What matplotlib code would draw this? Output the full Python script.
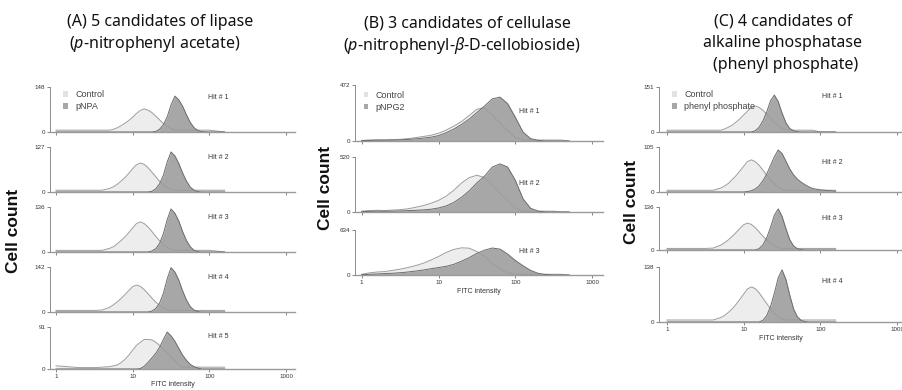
import numpy as np
import matplotlib.pyplot as plt
from matplotlib.patches import Patch
from matplotlib.ticker import NullLocator

plt.rcParams['font.family'] = ['Liberation Sans', 'DejaVu Sans']
plt.rcParams['mathtext.fontset'] = 'custom'
plt.rcParams['mathtext.rm'] = 'Noto Sans'
plt.rcParams['mathtext.it'] = 'Noto Sans:italic'

# FITC intensity grids (histogram bin centres)
fitc_ac = [1, 2.0, 3.16, 3.98, 5.01, 5.62, 6.31, 7.08, 7.94, 8.91, 10, 11.2, 12.6, 14.1, 15.8,
           17.8, 20.0, 22.4, 25.1, 28.2, 31.6, 35.5, 39.8, 44.7, 50.1, 56.2, 63.1, 70.8, 79.4, 100, 158]
fitc_b = [1, 1.26, 1.58, 2.0, 2.51, 3.16, 3.98, 5.01, 6.31, 7.94, 10, 12.6, 15.8, 20.0,
          25.1, 31.6, 39.8, 50.1, 63.1, 79.4, 100, 126, 158, 200, 251, 316, 398, 501]

# (A) lipase, substrate pNPA
lipase_max = [148, 127, 136, 142, 91]
lipase_ctrl = [
    [6, 6, 6, 6, 6, 9, 14, 21, 29, 38, 49, 61, 71, 76, 72, 64, 52, 40, 28, 19, 11, 6, 6, 6, 6, 6, 6, 6, 6, 6, 0],
    [5, 5, 5, 5, 10, 15, 22, 31, 41, 53, 66, 77, 82, 78, 69, 56, 43, 30, 20, 12, 6, 5, 5, 5, 5, 5, 5, 5, 5, 5, 5],
    [5, 5, 5, 5, 11, 16, 25, 35, 46, 59, 73, 86, 91, 86, 76, 62, 47, 34, 23, 14, 7, 5, 5, 5, 5, 5, 5, 5, 5, 5, 0],
    [5, 5, 5, 6, 15, 23, 32, 43, 55, 68, 80, 85, 81, 71, 58, 44, 31, 21, 13, 7, 5, 5, 5, 5, 5, 5, 5, 5, 5, 5, 5],
    [7, 3, 3, 4, 5, 7, 9, 14, 21, 30, 41, 51, 58, 64, 64, 63, 58, 51, 43, 35, 26, 17, 9, 4, 4, 4, 4, 4, 4, 4, 4],
]
lipase_pnpa = [
    [0, 0, 0, 0, 0, 0, 0, 0, 0, 0, 0, 0, 0, 0, 0, 0, 2, 9, 24, 50, 89, 118, 106, 85, 57, 32, 14, 5, 1, 0, 0],
    [0, 0, 0, 0, 0, 0, 0, 0, 0, 0, 0, 0, 0, 0, 0, 2, 9, 23, 47, 85, 113, 102, 81, 54, 31, 14, 5, 1, 0, 0, 0],
    [0, 0, 0, 0, 0, 0, 0, 0, 0, 0, 0, 0, 0, 0, 0, 3, 10, 26, 55, 98, 130, 117, 94, 62, 35, 16, 5, 1, 0, 0, 0],
    [0, 0, 0, 0, 0, 0, 0, 0, 0, 0, 0, 0, 0, 0, 0, 3, 11, 28, 59, 105, 140, 126, 101, 67, 38, 17, 6, 1, 0, 0, 0],
    [0, 0, 0, 0, 0, 0, 0, 0, 0, 0, 0, 0, 1, 6, 14, 24, 34, 47, 64, 80, 72, 60, 45, 30, 19, 10, 5, 2, 0, 0, 0],
]

# (B) cellulase, substrate pNPG2
cell_max = [472, 520, 634]
cell_ctrl = [
    [5, 8, 10, 10, 12, 14, 20, 28, 38, 48, 65, 92, 125, 165, 215, 268, 280, 218, 150, 88, 30, 8, 8, 8, 8, 8, 8, 0],
    [8, 14, 16, 14, 18, 22, 30, 44, 60, 82, 110, 150, 205, 275, 325, 348, 325, 255, 175, 110, 35, 10, 8, 8, 8, 8, 0, 0],
    [10, 30, 42, 48, 65, 82, 105, 132, 165, 210, 260, 318, 360, 383, 378, 330, 262, 160, 90, 32, 12, 10, 10, 10, 10, 10, 10, 0],
]
cell_pnpg2 = [
    [3, 5, 7, 7, 8, 10, 13, 18, 24, 32, 45, 70, 100, 140, 185, 240, 295, 355, 370, 315, 200, 75, 20, 5, 0, 0, 0, 0],
    [3, 6, 8, 7, 8, 10, 13, 16, 20, 26, 38, 58, 90, 140, 200, 275, 340, 425, 455, 425, 300, 125, 35, 8, 0, 0, 0, 0],
    [5, 10, 15, 20, 25, 32, 42, 55, 70, 88, 105, 122, 150, 195, 245, 305, 350, 380, 365, 295, 205, 130, 65, 22, 6, 0, 0, 0],
]

# (C) alkaline phosphatase, substrate phenyl phosphate
phos_max = [151, 105, 136, 138]
phos_ctrl = [
    [6, 6, 6, 6, 6, 10, 16, 23, 33, 44, 57, 70, 82, 87, 83, 73, 59, 45, 32, 22, 13, 7, 6, 6, 6, 6, 6, 6, 6, 0, 0],
    [4, 4, 4, 4, 9, 14, 20, 29, 38, 49, 60, 71, 75, 71, 63, 51, 39, 28, 19, 11, 6, 4, 4, 4, 4, 4, 4, 4, 4, 4, 4],
    [5, 5, 5, 6, 15, 23, 32, 43, 55, 68, 80, 85, 81, 71, 58, 44, 31, 21, 13, 7, 5, 5, 5, 5, 5, 5, 5, 5, 5, 5, 5],
    [5, 5, 5, 5, 11, 16, 24, 33, 44, 57, 70, 83, 88, 84, 74, 60, 46, 33, 22, 13, 7, 5, 5, 5, 5, 5, 5, 5, 5, 5, 5],
]
phos_phenyl = [
    [0, 0, 0, 0, 0, 0, 0, 0, 0, 0, 0, 0, 0, 4, 15, 37, 68, 105, 124, 102, 64, 31, 12, 4, 1, 0, 0, 0, 0, 0, 0],
    [0, 0, 0, 0, 0, 0, 0, 0, 0, 0, 0, 1, 3, 7, 14, 26, 42, 62, 82, 98, 90, 72, 54, 40, 30, 23, 17, 12, 8, 5, 2],
    [0, 0, 0, 0, 0, 0, 0, 0, 0, 0, 0, 0, 0, 0, 4, 16, 39, 72, 110, 130, 107, 68, 33, 13, 4, 1, 0, 0, 0, 0, 0],
    [0, 0, 0, 0, 0, 0, 0, 0, 0, 0, 0, 0, 0, 0, 0, 4, 16, 39, 72, 111, 131, 107, 68, 33, 13, 4, 1, 0, 0, 0, 0],
]

W, H = 903, 390
CTRL_FC, CTRL_EC = '#ededed', '#9c9c9c'
TRT_FC, TRT_EC = '#a7a7a7', '#6c6c6c'


def hist_axes(fig, left, right, top, bottom, xlim):
    ax = fig.add_axes([left / W, 1 - bottom / H, (right - left) / W, (bottom - top) / H])
    ax.set_xscale('log')
    ax.set_xlim(*xlim)
    return ax


def draw(ax, x, ctrl, trt, ymax, hit, hit_pos, last, xlabel_pad=2):
    ax.fill_between(x, ctrl, color=CTRL_FC, lw=0, zorder=1)
    ax.fill_between(x, trt, color=TRT_FC, lw=0, zorder=2)
    ax.plot(x, ctrl, color=CTRL_EC, lw=0.7, zorder=3)
    ax.plot(x, trt, color=TRT_EC, lw=0.7, zorder=3)
    ax.set_ylim(0, ymax)
    ax.set_yticks([0, ymax])
    ax.set_yticklabels(['0', str(ymax)])
    ax.set_xticks([1, 10, 100, 1000])
    ax.xaxis.set_minor_locator(NullLocator())
    if last:
        ax.set_xticklabels(['1', '10', '100', '1000'])
        ax.set_xlabel('FITC intensity', fontsize=5, color='#333333', labelpad=xlabel_pad)
    else:
        ax.set_xticklabels([])
    for s in ['top', 'right']:
        ax.spines[s].set_visible(False)
    ax.spines['left'].set_color('#7a7a7a')
    ax.spines['left'].set_linewidth(0.6)
    ax.spines['bottom'].set_color('#9a9a9a')
    ax.spines['bottom'].set_linewidth(1.0)
    ax.tick_params(length=2, width=0.5, labelsize=4.5, pad=1.5, colors='#555555', labelcolor='#333333')
    ax.text(hit_pos[0], hit_pos[1], 'Hit # %d' % hit, transform=ax.transAxes,
            fontsize=5, color='#333333', va='center')


def add_legend(ax, label, x0, y0):
    ax.legend(handles=[Patch(facecolor='#e2e2e2', edgecolor='none', label='Control'),
                       Patch(facecolor=TRT_FC, edgecolor='none', label=label)],
              loc='upper left', bbox_to_anchor=(x0, y0), frameon=False, fontsize=6.5,
              handlelength=0.5, handleheight=0.6, handletextpad=0.8, labelspacing=0.35,
              borderaxespad=0, borderpad=0, labelcolor='#444444')


fig = plt.figure(figsize=(W / 100, H / 100), dpi=100)

# panel A
rows_a = [(87, 132), (147, 192), (207, 252), (267, 312), (327, 369)]
for i, (t, b) in enumerate(rows_a):
    ax = hist_axes(fig, 50, 295, t, b, (0.835, 1306))
    draw(ax, fitc_ac, lipase_ctrl[i], lipase_pnpa[i], lipase_max[i], i + 1, (0.645, 0.77), i == 4,
         xlabel_pad=1.5)
    if i == 0:
        add_legend(ax, 'pNPA', 0.055, 0.93)

# panel B
rows_b = [(85, 141), (157, 212), (230, 275)]
for i, (t, b) in enumerate(rows_b):
    ax = hist_axes(fig, 355, 603, t, b, (0.818, 1385))
    draw(ax, fitc_b, cell_ctrl[i], cell_pnpg2[i], cell_max[i], i + 1, (0.66, 0.52), i == 2)
    if i == 0:
        add_legend(ax, 'pNPG2', 0.035, 0.9)

# panel C
rows_c = [(87, 132), (147, 192), (207, 250), (267, 322)]
hit_y_c = [0.78, 0.66, 0.74, 0.73]
for i, (t, b) in enumerate(rows_c):
    ax = hist_axes(fig, 659, 903, t, b, (0.787, 1194))
    draw(ax, fitc_ac, phos_ctrl[i], phos_phenyl[i], phos_max[i], i + 1, (0.67, hit_y_c[i]), i == 3)
    if i == 0:
        add_legend(ax, 'phenyl phosphate', 0.055, 0.93)

# titles
tkw = dict(ha='center', va='center', fontsize=11.5, family='Noto Sans', color='#111111')
fig.text(160 / W, 1 - 22 / H, '(A) 5 candidates of lipase', **tkw)
fig.text(155 / W, 1 - 44 / H, r'($\it{p}$-nitrophenyl acetate)', **tkw)
fig.text(467 / W, 1 - 23 / H, '(B) 3 candidates of cellulase', **tkw)
fig.text(462 / W, 1 - 46 / H, r'($\it{p}$-nitrophenyl-$\it{β}$-D-cellobioside)', **tkw)
fig.text(783 / W, 1 - 21 / H, '(C) 4 candidates of', **tkw)
fig.text(783 / W, 1 - 43 / H, 'alkaline phosphatase', **tkw)
fig.text(786 / W, 1 - 65 / H, '(phenyl phosphate)', **tkw)

ckw = dict(ha='center', va='center', rotation=90, fontsize=12.5, fontweight='bold', color='#111111',
           family=['Liberation Sans Narrow', 'Liberation Sans', 'DejaVu Sans'])
fig.text(14 / W, 1 - 231 / H, 'Cell count', **ckw)
fig.text(326 / W, 1 - 188 / H, 'Cell count', **ckw)
fig.text(632 / W, 1 - 202 / H, 'Cell count', **ckw)

fig.savefig('out.png', dpi=100)
